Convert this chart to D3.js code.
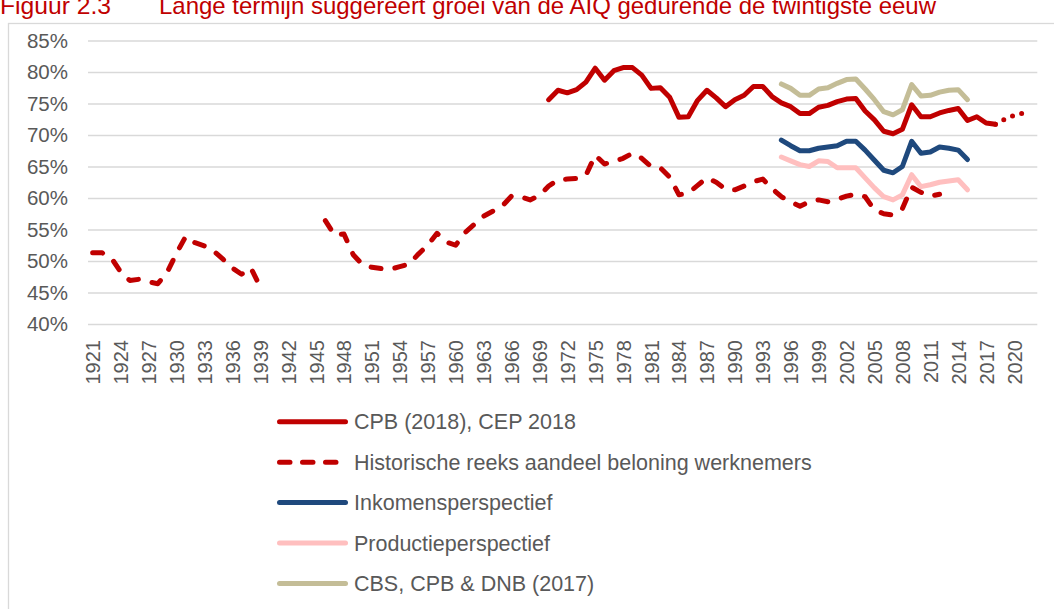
<!DOCTYPE html>
<html>
<head>
<meta charset="utf-8">
<script src="https://cdn.jsdelivr.net/npm/d3@7"></script>
<style>
  body { margin: 0; background: #fff; }
  svg { display: block; font-family: "Liberation Sans", Arial, sans-serif; }
</style>
</head>
<body>
<svg width="1054" height="609"></svg>
<script>
const width = 1054;
const height = 609;

const titleNumber = "Figuur 2.3";
const titleText = "Lange termijn suggereert groei van de AIQ gedurende de twintigste eeuw";

const firstYear = 1921;
const lastYear = 2022;
const tickYears = [1921, 1924, 1927, 1930, 1933, 1936, 1939, 1942, 1945, 1948, 1951, 1954,
  1957, 1960, 1963, 1966, 1969, 1972, 1975, 1978, 1981, 1984, 1987, 1990, 1993, 1996,
  1999, 2002, 2005, 2008, 2011, 2014, 2017, 2020];
const yTicks = [40, 45, 50, 55, 60, 65, 70, 75, 80, 85];

// historische reeks, twee stukken (oorlogsjaren ontbreken)
const histPreWarStart = 1921;
const histPreWar = [51.3, 51.3, 50.5, 48.3, 46.9, 47.1, 46.7, 46.4, 48.2, 51.2,
  53.9, 52.9, 52.4, 51.6, 50.3, 48.9, 47.9, 48.9, 45.9];

const histPostWarStart = 1946;
const histPostWar = [56.4, 54.1, 54.3, 51.0, 49.4, 49.0, 48.8, 48.7, 49.1, 49.5,
  51.1, 52.5, 54.4, 53.0, 52.5, 54.5, 55.8, 57.1, 57.9, 58.7,
  60.3, 60.2, 59.7, 60.4, 61.9, 62.9, 63.0, 63.1, 63.6, 66.8,
  65.4, 65.8, 66.3, 67.1, 66.3, 65.0, 64.8, 63.3, 60.5, 60.8,
  62.0, 63.2, 62.5, 61.4, 61.3, 61.9, 62.6, 63.0, 61.5, 60.2,
  59.4, 58.7, 59.4, 59.7, 59.4, 59.8, 60.3, 60.6, 60.2, 58.1,
  57.5, 57.3, 58.3, 61.7, 60.9, 60.3, 60.6];

// CPB (2018), CEP 2018
const cpbStart = 1970;
const cpb = [75.6, 77.1, 76.7, 77.2, 78.4, 80.6, 78.7, 80.2, 80.7, 80.7,
  79.5, 77.4, 77.5, 76.0, 72.8, 72.9, 75.5, 77.1, 75.9, 74.5,
  75.6, 76.3, 77.7, 77.7, 76.1, 75.1, 74.5, 73.4, 73.4, 74.4,
  74.7, 75.3, 75.7, 75.8, 73.8, 72.4, 70.6, 70.2, 70.9, 74.8,
  72.9, 72.9, 73.5, 73.9, 74.2, 72.3, 72.9, 71.9, 71.7];
const cpbProjStart = 2018;
const cpbProj = [71.7, 72.5, 73.1, 73.5];

// CBS, CPB & DNB (2017): 1995-2015
const perspStart = 1995;
const inkomen = [69.2, 68.3, 67.5, 67.5, 67.9, 68.1, 68.3, 69.0, 69.0, 67.6,
  66.0, 64.4, 64.0, 65.0, 69.0, 67.1, 67.3, 68.1, 67.9, 67.6, 66.1];
const productie = [66.5, 65.9, 65.3, 65.0, 65.9, 65.8, 64.8, 64.8, 64.8, 63.2,
  61.6, 60.2, 59.7, 60.5, 63.7, 61.8, 62.1, 62.5, 62.7, 62.9, 61.3];
const cbs = [78.1, 77.4, 76.3, 76.3, 77.3, 77.5, 78.2, 78.8, 78.9, 77.3,
  75.6, 73.7, 73.2, 74.0, 78.0, 76.2, 76.3, 76.8, 77.1, 77.2, 75.6];

const legendLabels = ["CPB (2018), CEP 2018", "Historische reeks aandeel beloning werknemers",
  "Inkomensperspectief", "Productieperspectief", "CBS, CPB & DNB (2017)"];

const red = "#c00000";
const blue = "#1f497d";
const pink = "#ffbfbf";
const tan = "#c4bd97";
const grid = "#d9d9d9";
const textColor = "#595959";

const plot = { left: 88, right: 1037.3, top: 40.5, bottom: 324 };

const years = d3.range(firstYear, lastYear + 1);

let x = d3
  .scalePoint()
  .domain(years)
  .range([plot.left, plot.right])
  .padding(0.5);

let y = d3
  .scaleLinear()
  .domain([40, 85])
  .range([plot.bottom, plot.top]);

let line = d3
  .line()
  .defined(d => d[1] != null)
  .x(d => x(d[0]))
  .y(d => y(d[1]));

function pts(start, values) {
  return values.map((v, i) => [start + i, v]);
}

const series = [
  { data: pts(cpbStart, cpb), color: red },
  { data: pts(histPreWarStart, histPreWar), color: red, dash: "10,14" },
  { data: pts(histPostWarStart, histPostWar), color: red, dash: "10,14" },
  { data: pts(cpbProjStart, cpbProj), color: red, dash: "0,9.5" },
  { data: pts(perspStart, inkomen), color: blue },
  { data: pts(perspStart, productie), color: pink },
  { data: pts(perspStart, cbs), color: tan }
];

const legendItems = [
  { label: legendLabels[0], color: red },
  { label: legendLabels[1], color: red, dash: "10.5,12.5" },
  { label: legendLabels[2], color: blue },
  { label: legendLabels[3], color: pink },
  { label: legendLabels[4], color: tan }
];

const svg = d3.select("svg");

svg.append("rect")
  .attr("width", width)
  .attr("height", height)
  .attr("fill", "#fff");

// chart frame
svg.append("rect")
  .attr("x", 8.5)
  .attr("y", 23.5)
  .attr("width", 1100)
  .attr("height", 700)
  .attr("fill", "#fff")
  .attr("stroke", grid)
  .attr("stroke-width", 1.3);

// title (top is cut off in the original)
svg.append("text")
  .attr("x", 0)
  .attr("y", 14)
  .attr("fill", red)
  .style("font-family", "'Liberation Sans Narrow', 'Arial Narrow', sans-serif")
  .style("font-size", "24px")
  .attr("textLength", 111)
  .attr("lengthAdjust", "spacingAndGlyphs")
  .text(titleNumber);

svg.append("text")
  .attr("x", 159)
  .attr("y", 14)
  .attr("fill", red)
  .style("font-family", "'Liberation Sans Narrow', 'Arial Narrow', sans-serif")
  .style("font-size", "24px")
  .attr("textLength", 777)
  .attr("lengthAdjust", "spacingAndGlyphs")
  .text(titleText);

// y axis + gridlines
const yAxis = svg.append("g")
  .attr("transform", `translate(${plot.left},0)`)
  .call(
    d3.axisLeft(y)
      .tickValues(yTicks)
      .tickSize(-(plot.right - plot.left))
      .tickPadding(20)
      .tickFormat(d => d + "%")
  );
yAxis.select(".domain").remove();
yAxis.selectAll("line")
  .attr("stroke", grid)
  .attr("stroke-width", 1.3);
yAxis.selectAll("text")
  .attr("fill", textColor)
  .style("font-size", "20.5px")
  .style("font-family", "'Liberation Sans', Arial, sans-serif");

// x axis
const xAxis = svg.append("g")
  .attr("transform", `translate(0,${plot.bottom})`)
  .call(d3.axisBottom(x).tickValues(tickYears).tickSize(0));
xAxis.select(".domain").remove();
xAxis.selectAll("text")
  .attr("transform", "rotate(-90)")
  .attr("x", -16)
  .attr("y", 0)
  .attr("dy", "0.35em")
  .style("text-anchor", "end")
  .attr("fill", textColor)
  .style("font-size", "20px")
  .style("font-family", "'Liberation Sans', Arial, sans-serif");

// lines
svg.append("g")
  .selectAll("path")
  .data(series)
  .join("path")
  .attr("d", d => line(d.data))
  .attr("fill", "none")
  .attr("stroke", d => d.color)
  .attr("stroke-width", 5)
  .attr("stroke-linejoin", "round")
  .attr("stroke-linecap", "round")
  .attr("stroke-dasharray", d => d.dash || null);

// legend
const legend = svg.append("g")
  .attr("transform", "translate(279.5,421.8)");

const row = legend.selectAll("g")
  .data(legendItems)
  .join("g")
  .attr("transform", (d, i) => `translate(0,${i * 40.4})`);

row.append("line")
  .attr("x1", 0)
  .attr("x2", d => (d.dash ? 57 : 66))
  .attr("stroke", d => d.color)
  .attr("stroke-width", 5)
  .attr("stroke-linecap", "round")
  .attr("stroke-dasharray", d => d.dash || null);

row.append("text")
  .attr("x", 74.5)
  .attr("dy", "0.35em")
  .attr("fill", textColor)
  .style("font-size", "21.5px")
  .text(d => d.label);
</script>
</body>
</html>
